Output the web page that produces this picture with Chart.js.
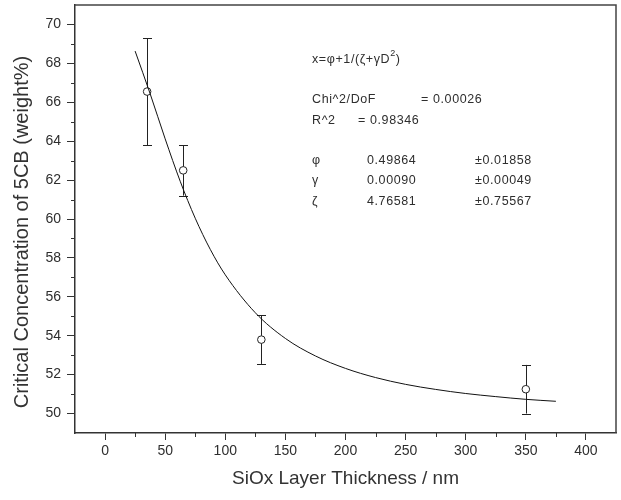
<!DOCTYPE html>
<html><head><meta charset="utf-8">
<script src="https://cdn.jsdelivr.net/npm/chart.js@4"></script>
<style>html,body{margin:0;padding:0;background:#fff}#wrap{width:621px;height:500px}</style>
</head><body><div id="wrap"><canvas id="c" width="621" height="500"></canvas></div>
<script>
// ---- data ----
const thickness = [35, 65, 130, 350];
const concentration = [66.55, 62.5, 53.8, 51.25];
const errorPlus = [2.75, 1.3, 1.25, 1.25];
const errorMinus = [2.75, 1.3, 1.25, 1.25];
const fitThickness = [25, 37.5, 50, 62.5, 75, 87.5, 100, 125, 150, 175, 200, 225, 250, 275, 300, 325, 350, 375];
const fitConcentration = [68.63, 66.44, 64.12, 61.94, 60.04, 58.44, 57.13, 55.18, 53.86, 52.96, 52.32, 51.85, 51.50, 51.24, 51.03, 50.87, 50.73, 50.63];
const xTicks = [0, 50, 100, 150, 200, 250, 300, 350, 400];
const xMinorTicks = [25, 75, 125, 175, 225, 275, 325, 375];
const yTicks = [50, 52, 54, 56, 58, 60, 62, 64, 66, 68, 70];
const yMinorTicks = [51, 53, 55, 57, 59, 61, 63, 65, 67, 69];
const xTitle = 'SiOx Layer Thickness / nm';
const yTitle = 'Critical Concentration of 5CB (weight%)';
const fitFormula = ['x=\u03C6+1/(\u03B6+\u03B3D', '2', ')'];
const fitStats = [['Chi^2/DoF', '= 0.00026'], ['R^2', '= 0.98346']];
const fitParams = [['\u03C6', '0.49864', '\u00B10.01858'], ['\u03B3', '0.00090', '\u00B10.00049'], ['\u03B6', '4.76581', '\u00B10.75567']];

const FONT = '"Liberation Sans", Arial, sans-serif';
const INK = '#2e2e2e';

const extras = {
  id: 'extras',
  beforeDatasetsDraw(chart) {
    const {ctx, scales: {x, y}} = chart;
    ctx.save();
    ctx.strokeStyle = '#222';
    ctx.lineWidth = 1;
    thickness.forEach((t, i) => {
      const px = Math.round(x.getPixelForValue(t)) + 0.5;
      const top = y.getPixelForValue(concentration[i] + errorPlus[i]);
      const bot = y.getPixelForValue(concentration[i] - errorMinus[i]);
      ctx.beginPath();
      ctx.moveTo(px, top); ctx.lineTo(px, bot);
      ctx.moveTo(px - 4.5, Math.round(top) + 0.5); ctx.lineTo(px + 4.5, Math.round(top) + 0.5);
      ctx.moveTo(px - 4.5, Math.round(bot) + 0.5); ctx.lineTo(px + 4.5, Math.round(bot) + 0.5);
      ctx.stroke();
    });
    ctx.restore();
  },
  afterDraw(chart) {
    const {ctx, chartArea: a, scales: {x, y}} = chart;
    ctx.save();
    // minor ticks
    ctx.strokeStyle = '#333';
    ctx.lineWidth = 1;
    ctx.beginPath();
    xMinorTicks.forEach(v => {
      const px = Math.round(x.getPixelForValue(v)) + 0.5;
      ctx.moveTo(px, a.bottom); ctx.lineTo(px, a.bottom + 4);
    });
    yMinorTicks.forEach(v => {
      const py = Math.round(y.getPixelForValue(v)) + 0.5;
      ctx.moveTo(a.left, py); ctx.lineTo(a.left - 4, py);
    });
    ctx.stroke();
    // top and right frame
    ctx.strokeStyle = '#444';
    ctx.lineWidth = 1.5;
    ctx.beginPath();
    ctx.moveTo(a.left, a.top); ctx.lineTo(a.right, a.top); ctx.lineTo(a.right, a.bottom);
    ctx.stroke();
    // y axis title
    ctx.save();
    ctx.translate(22, 232);
    ctx.rotate(-Math.PI / 2);
    ctx.fillStyle = '#333';
    ctx.font = '20px ' + FONT;
    ctx.textAlign = 'center';
    ctx.textBaseline = 'middle';
    ctx.fillText(yTitle, 0, 0);
    ctx.restore();
    // annotation
    ctx.fillStyle = INK;
    ctx.textBaseline = 'middle';
    ctx.textAlign = 'left';
    ctx.letterSpacing = '0.6px';
    ctx.font = '12.5px ' + FONT;
    let fx = 312, fy = 60;
    ctx.fillText(fitFormula[0], fx, fy);
    fx += ctx.measureText(fitFormula[0]).width;
    ctx.font = '9px ' + FONT;
    ctx.fillText(fitFormula[1], fx, fy - 6);
    fx += ctx.measureText(fitFormula[1]).width;
    ctx.font = '12.5px ' + FONT;
    ctx.fillText(fitFormula[2], fx, fy);
    ctx.fillText(fitStats[0][0], 312, 100);
    ctx.fillText(fitStats[0][1], 421, 100);
    ctx.fillText(fitStats[1][0], 312, 121);
    ctx.fillText(fitStats[1][1], 358, 121);
    const rows = [161, 181, 202];
    fitParams.forEach((p, i) => {
      ctx.fillText(p[0], 312, rows[i]);
      ctx.fillText(p[1], 367, rows[i]);
      ctx.fillText(p[2], 475, rows[i]);
    });
    ctx.restore();
  }
};

new Chart(document.getElementById('c'), {
  data: {
    datasets: [
      {
        type: 'line',
        data: fitThickness.map((t, i) => ({x: t, y: fitConcentration[i]})),
        borderColor: '#111',
        borderWidth: 1,
        pointRadius: 0,
        fill: false,
        cubicInterpolationMode: 'monotone'
      },
      {
        type: 'scatter',
        data: thickness.map((t, i) => ({x: t, y: concentration[i]})),
        pointRadius: 3.8,
        pointBackgroundColor: '#fff',
        pointBorderColor: '#222',
        pointBorderWidth: 1
      }
    ]
  },
  plugins: [extras],
  options: {
    responsive: false,
    animation: false,
    layout: {padding: {top: 4, right: -2, left: 0, bottom: 0}},
    plugins: {legend: {display: false}, tooltip: {enabled: false}},
    scales: {
      x: {
        type: 'linear',
        min: -25, max: 425,
        afterBuildTicks: s => { s.ticks = xTicks.map(v => ({value: v})); },
        afterFit: s => { s.height = 67; s.paddingLeft = 0; s.paddingRight = 0; },
        grid: {drawOnChartArea: false, drawTicks: true, tickLength: 7, color: '#333'},
        border: {color: '#333', width: 1.5},
        ticks: {padding: 3, color: INK, font: {family: FONT, size: 14}, maxRotation: 0},
        title: {display: true, text: xTitle, color: '#333', font: {family: FONT, size: 19}, padding: {top: 0, bottom: 10}}
      },
      y: {
        type: 'linear',
        min: 49, max: 71,
        afterBuildTicks: s => { s.ticks = yTicks.map(v => ({value: v})); },
        afterFit: s => { s.width = 75; s.paddingTop = 0; s.paddingBottom = 0; },
        grid: {drawOnChartArea: false, drawTicks: true, tickLength: 8, color: '#333'},
        border: {color: '#333', width: 1.5},
        ticks: {padding: 6, color: INK, font: {family: FONT, size: 14}},
        title: {display: false}
      }
    }
  }
});
</script>
</body></html>
